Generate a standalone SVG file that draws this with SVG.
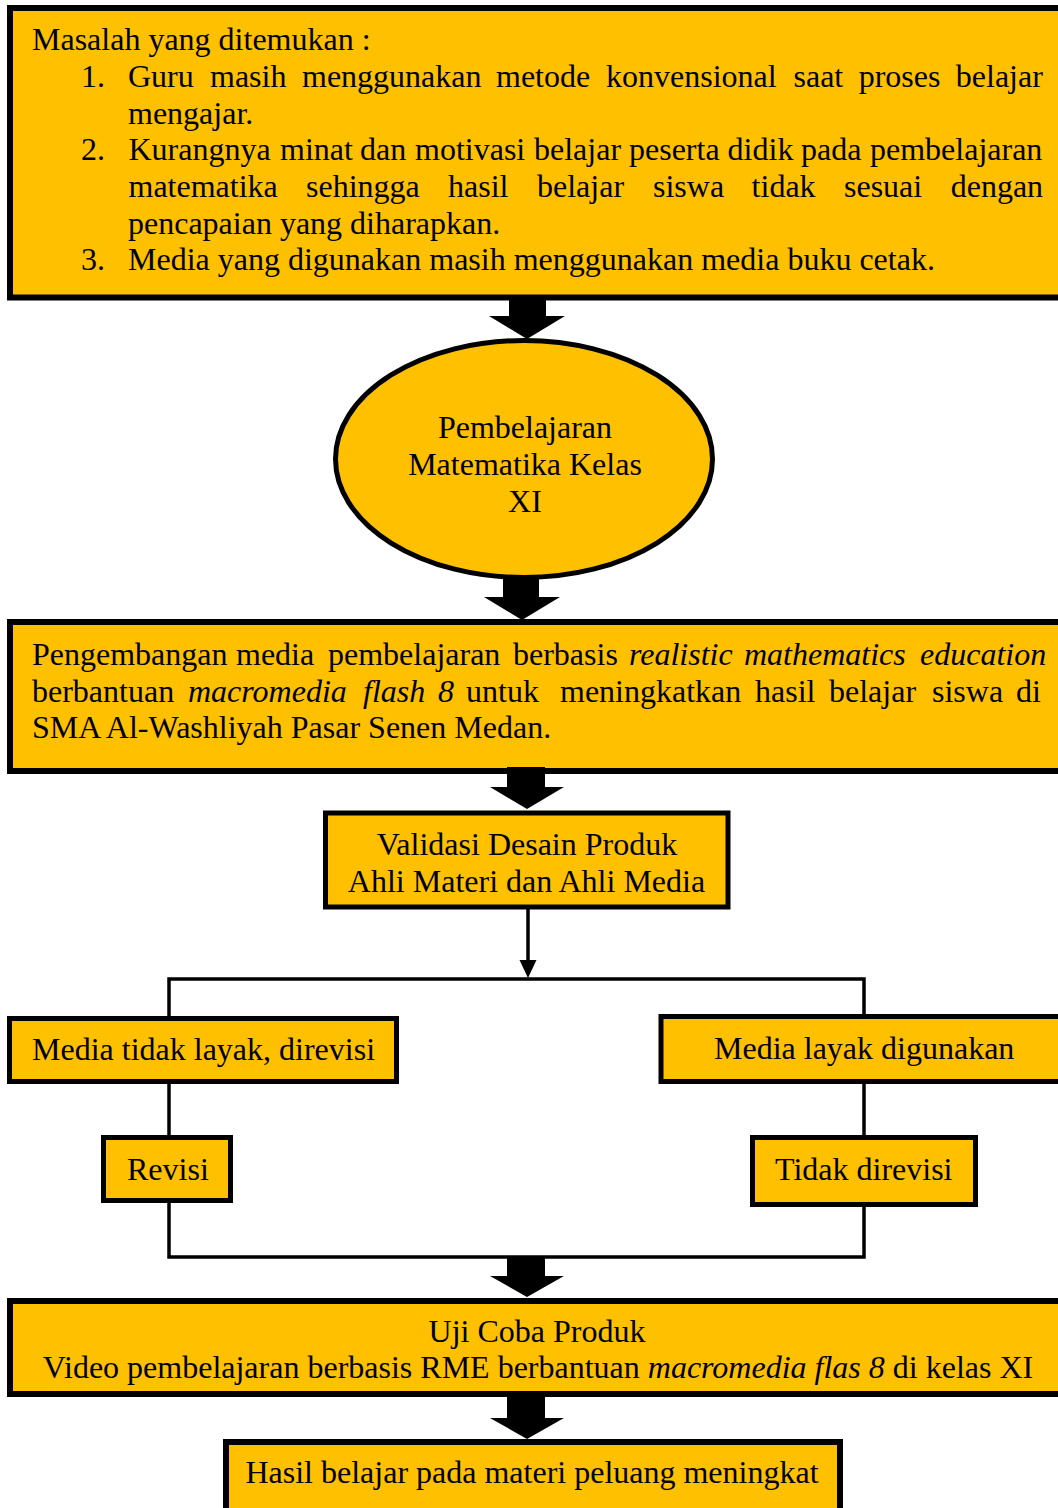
<svg xmlns="http://www.w3.org/2000/svg" width="1058" height="1508" viewBox="0 0 1058 1508">
<style>
.box{fill:#FFC000;stroke:#000;stroke-width:6}
.bx5{fill:#FFC000;stroke:#000;stroke-width:5}
text{font-family:"Liberation Serif","Times New Roman",serif;font-size:32px;fill:#000}
.c{text-anchor:middle}
.i{font-style:italic}
.ln{fill:none;stroke:#000;stroke-width:3.5}
.ar{fill:#000}
</style>
<rect width="1058" height="1508" fill="#fff"/>

<g id="masalah">
<rect class="box" x="10" y="8" width="1060" height="289.5"/>
<text x="32" y="50">Masalah yang ditemukan :</text>
<text y="87"><tspan x="81">1.</tspan><tspan x="128">Guru</tspan><tspan x="210">masih</tspan><tspan x="302">menggunakan</tspan><tspan x="496">metode</tspan><tspan x="606">konvensional</tspan><tspan x="793.5">saat</tspan><tspan x="858.7">proses</tspan><tspan x="955.8">belajar</tspan></text>
<text x="128" y="123.7">mengajar.</text>
<text y="160.3"><tspan x="81">2.</tspan><tspan x="128.5">Kurangnya</tspan><tspan x="280">minat</tspan><tspan x="360">dan</tspan><tspan x="415">motivasi</tspan><tspan x="534">belajar</tspan><tspan x="629">peserta</tspan><tspan x="727.6">didik</tspan><tspan x="801">pada</tspan><tspan x="870">pembelajaran</tspan></text>
<text y="197"><tspan x="128.5">matematika</tspan><tspan x="306">sehingga</tspan><tspan x="448">hasil</tspan><tspan x="537">belajar</tspan><tspan x="653">siswa</tspan><tspan x="751.6">tidak</tspan><tspan x="844">sesuai</tspan><tspan x="950.7">dengan</tspan></text>
<text x="128" y="233.7">pencapaian yang diharapkan.</text>
<text y="270.3"><tspan x="81">3.</tspan><tspan x="128">Media yang digunakan masih menggunakan media buku cetak.</tspan></text>
</g>

<g id="pembelajaran">
<ellipse class="bx5" cx="524" cy="459" rx="188.5" ry="118.5"/>
<text class="c" x="525" y="438">Pembelajaran</text>
<text class="c" x="525" y="475">Matematika Kelas</text>
<text class="c" x="525" y="512">XI</text>
</g>

<g id="pengembangan">
<rect class="box" x="10" y="622" width="1060" height="149"/>
<text y="665"><tspan x="32">Pengembangan</tspan><tspan x="236">media</tspan><tspan x="328">pembelajaran</tspan><tspan x="513">berbasis</tspan><tspan class="i" x="629">realistic</tspan><tspan class="i" x="744">mathematics</tspan><tspan class="i" x="920">education</tspan></text>
<text y="702"><tspan x="32">berbantuan</tspan><tspan class="i" x="188">macromedia</tspan><tspan class="i" x="363">flash</tspan><tspan class="i" x="438">8</tspan><tspan x="466">untuk</tspan><tspan x="560">meningkatkan</tspan><tspan x="755">hasil</tspan><tspan x="829">belajar</tspan><tspan x="932">siswa</tspan><tspan x="1016">di</tspan></text>
<text x="32" y="738">SMA Al-Washliyah Pasar Senen Medan.</text>
</g>

<g id="validasi">
<rect class="bx5" x="325.5" y="813" width="402.5" height="94"/>
<text class="c" x="527" y="855">Validasi Desain Produk</text>
<text class="c" x="526.5" y="892">Ahli Materi dan Ahli Media</text>
</g>

<g id="tidak-layak">
<rect class="bx5" x="9.5" y="1018.5" width="387" height="63"/>
<text x="32" y="1060">Media tidak layak, direvisi</text>
</g>

<g id="layak">
<rect class="bx5" x="661" y="1016.5" width="400" height="65"/>
<text x="714" y="1059">Media layak digunakan</text>
</g>

<g id="revisi">
<rect class="bx5" x="103.5" y="1137.5" width="127" height="63"/>
<text x="127" y="1180">Revisi</text>
</g>

<g id="tidak-direvisi">
<rect class="bx5" x="752.5" y="1137.5" width="223" height="67"/>
<text x="775" y="1180">Tidak direvisi</text>
</g>

<g id="uji-coba">
<rect class="box" x="10" y="1301" width="1060" height="93"/>
<text class="c" x="537" y="1342">Uji Coba Produk</text>
<text class="c" x="538" y="1378">Video pembelajaran berbasis RME berbantuan <tspan class="i">macromedia flas 8</tspan> di kelas XI</text>
</g>

<g id="hasil">
<rect class="box" x="226" y="1442" width="614" height="100"/>
<text class="c" x="532" y="1483">Hasil belajar pada materi peluang meningkat</text>
</g>

<g id="connectors">
<polygon class="ar" points="509,298 546,298 546,316 565,316 527,339 489,316 509,316"/>
<polygon class="ar" points="503,576 539,576 539,597 560,597 522,620 484,597 503,597"/>
<polygon class="ar" points="507,767 545,767 545,787 564,787 527,809 490,787 507,787"/>
<line class="ln" x1="528" y1="909" x2="528" y2="962"/>
<polygon class="ar" points="519.5,960 536.5,960 528,978"/>
<polyline class="ln" points="169,1018 169,979 864,979 864,1016"/>
<line class="ln" x1="169" y1="1083" x2="169" y2="1137"/>
<line class="ln" x1="864" y1="1083" x2="864" y2="1137"/>
<polyline class="ln" points="169,1202 169,1257 864,1257 864,1206"/>
<polygon class="ar" points="507,1258 545,1258 545,1276 564,1276 527,1297 490,1276 507,1276"/>
<polygon class="ar" points="507,1396 545,1396 545,1418 564,1418 527,1439 490,1418 507,1418"/>
</g>
</svg>
